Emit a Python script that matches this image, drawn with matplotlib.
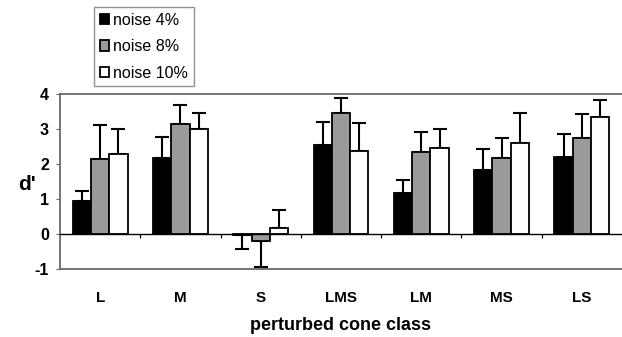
import matplotlib
matplotlib.use("Agg")
import matplotlib.pyplot as plt
import numpy as np

plt.rcParams['font.family'] = ['Liberation Sans', 'DejaVu Sans']

categories = ["L", "M", "S", "LMS", "LM", "MS", "LS"]
series_names = ["noise 4%", "noise 8%", "noise 10%"]
noise4 = [0.95, 2.18, -0.04, 2.54, 1.16, 1.83, 2.19]
noise8 = [2.15, 3.14, -0.20, 3.47, 2.33, 2.18, 2.75]
noise10 = [2.30, 3.01, 0.16, 2.38, 2.46, 2.60, 3.33]
err4 = [0.27, 0.60, 0.38, 0.66, 0.38, 0.60, 0.68]
err8 = [0.97, 0.56, 0.74, 0.42, 0.58, 0.56, 0.67]
err10 = [0.71, 0.46, 0.52, 0.79, 0.55, 0.87, 0.49]
yticks = [-1, 0, 1, 2, 3, 4]

values = [noise4, noise8, noise10]
errors = [err4, err8, err10]
colors = ["black", "#9a9a9a", "white"]

fig = plt.figure(figsize=(6.22, 3.37), dpi=100)
ax = fig.add_axes([60/622, 1-269/337, 1-60/622, (269-94)/337])

x = np.arange(len(categories))
w = 0.228
for i, (vals, errs, c) in enumerate(zip(values, errors, colors)):
    pos = x + (i - 1) * w
    vals = np.array(vals)
    errs = np.array(errs)
    ax.bar(pos, vals, width=w, color=c, edgecolor="black", linewidth=1.3,
           label=series_names[i], zorder=3)
    up = np.where(vals >= 0, errs, 0)
    dn = np.where(vals < 0, errs, 0)
    ax.errorbar(pos, vals, yerr=[dn, up], fmt="none", ecolor="black",
                elinewidth=1.5, capsize=5, capthick=1.5, zorder=2)

ax.axhline(0, color="black", lw=1.0, zorder=4)
ax.vlines(np.arange(len(categories) - 1) + 0.5, -0.1, 0, color="black", lw=0.9, zorder=4)

ax.set_xlim(-0.5, len(categories) - 0.5)
ax.set_ylim(-1, 4)
ax.set_yticks(yticks)
ax.set_yticklabels([str(t) for t in yticks], fontsize=11.5, fontweight="bold")
ax.set_xticks(x)
ax.set_xticklabels(categories, fontsize=11, fontweight="bold")
ax.tick_params(axis="x", length=0, pad=16)
ax.tick_params(axis="y", length=3, color="#666666", pad=5)

for s in ["top", "bottom", "left"]:
    ax.spines[s].set_color("#6a6a6a")
    ax.spines[s].set_linewidth(1.3)
ax.spines["right"].set_visible(False)

fig.text(27/622, 1-184/337, "d'", fontsize=15, fontweight="bold", ha="center", va="center")
fig.text(341/622, 1-326/337, "perturbed cone class", fontsize=13, fontweight="bold",
         ha="center", va="center")

leg = fig.legend(loc="upper left", bbox_to_anchor=(94/622, 1-7/337),
                 fontsize=11.5, frameon=True, fancybox=False, handlelength=0.6,
                 handleheight=0.6, handletextpad=0.25, labelspacing=0.72,
                 borderpad=0.35, borderaxespad=0)
leg.get_frame().set_edgecolor("#777777")
leg.get_frame().set_linewidth(1.0)

fig.savefig("out.png", dpi=100)
